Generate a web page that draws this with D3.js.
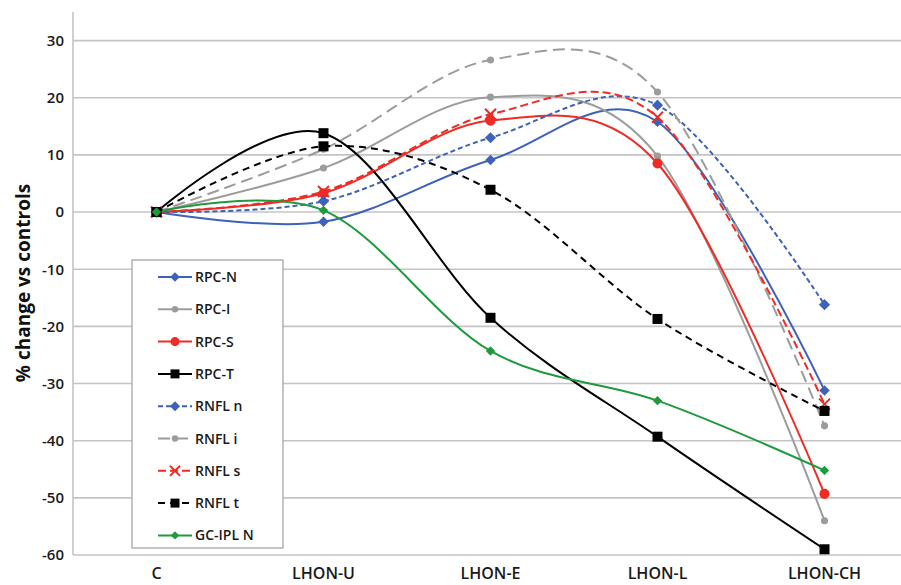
<!DOCTYPE html>
<html><head><meta charset="utf-8">
<script src="https://cdn.jsdelivr.net/npm/d3@7"></script>
<style>body{margin:0;background:#fff}svg{display:block}</style>
</head><body>
<svg id="c" width="901" height="585"></svg>
<script>
const categories = ["C", "LHON-U", "LHON-E", "LHON-L", "LHON-CH"];
const yTicks = [30, 20, 10, 0, -10, -20, -30, -40, -50, -60];
const seriesNames = ["RPC-N", "RPC-I", "RPC-S", "RPC-T", "RNFL n", "RNFL i", "RNFL s", "RNFL t", "GC-IPL N"];
const rpcN   = [0, -1.7, 9.1, 15.8, -31.2];
const rpcI   = [0, 7.7, 20.1, 9.8, -54.0];
const rpcS   = [0, 3.3, 16.0, 8.5, -49.3];
const rpcT   = [0, 13.8, -18.5, -39.3, -59.0];
const rnflN  = [0, 1.9, 13.0, 18.7, -16.2];
const rnflI  = [0, 11.0, 26.6, 21.0, -37.4];
const rnflS  = [0, 3.6, 17.1, 16.6, -33.6];
const rnflT  = [0, 11.5, 3.9, -18.7, -34.8];
const gcIplN = [0, 0.3, -24.3, -33.0, -45.2];
const seriesValues = [rpcN, rpcI, rpcS, rpcT, rnflN, rnflI, rnflS, rnflT, gcIplN];

const styles = [
  {color:"#3d62b8", dash:null,   marker:"diamond", size:70},
  {color:"#9c9c9c", dash:null,   marker:"circle",  size:40},
  {color:"#ee2b24", dash:null,   marker:"circle",  size:80},
  {color:"#000000", dash:null,   marker:"square",  size:100},
  {color:"#3d62b8", dash:"5,3",  marker:"diamond", size:80},
  {color:"#9c9c9c", dash:"12,6", marker:"circle",  size:40},
  {color:"#ee2b24", dash:"8,4",  marker:"x",       size:9},
  {color:"#000000", dash:"7,5",  marker:"square",  size:100},
  {color:"#1e9a3c", dash:null,   marker:"diamond", size:56}
];

const svg = d3.select("#c");
const font = "'Open Sans', 'Liberation Sans', sans-serif";
const x = d3.scaleBand().domain(categories).range([73, 908]);
const cx = c => x(c) + x.bandwidth()/2;
const y = d3.scaleLinear().domain([-60, 35]).range([555, 12]);

// gridlines
svg.append("g").selectAll("line").data(yTicks).join("line")
  .attr("x1", 73).attr("x2", 901)
  .attr("y1", d => y(d)).attr("y2", d => y(d))
  .attr("stroke", "#c4c4c4").attr("stroke-width", 1.6);
// y axis line
svg.append("line").attr("x1", 73).attr("x2", 73).attr("y1", y(35)).attr("y2", y(-60))
  .attr("stroke", "#c4c4c4").attr("stroke-width", 1.6);

// y tick labels
const yAxis = d3.axisLeft(y).tickValues(yTicks).tickSize(0).tickPadding(9).tickFormat(d => String(d));
const ga = svg.append("g").attr("transform", "translate(73,0)").call(yAxis);
ga.select(".domain").remove();
ga.selectAll("text").attr("font-family", font).attr("font-size", 15).attr("font-weight", 600).attr("fill", "#1a1a1a");

// x labels
const xAxis = d3.axisBottom(x).tickSize(0).tickPadding(0);
const gx = svg.append("g").attr("transform", "translate(0,568)").call(xAxis);
gx.select(".domain").remove();
gx.selectAll("text").attr("font-family", font).attr("font-size", 16).attr("font-weight", 600).attr("fill", "#1a1a1a");

// y title
svg.append("text").attr("transform", "translate(30,283) rotate(-90)")
  .attr("text-anchor", "middle").attr("font-family", font).attr("font-size", 19).attr("font-weight", 700)
  .attr("fill", "#111").text("% change vs controls");

function drawMarker(g, st, px, py, scale) {
  const s = scale || 1;
  if (st.marker === "x") {
    const r = st.size * s / 2 + 1;
    g.append("path").attr("d", `M${px-r},${py-r}L${px+r},${py+r}M${px-r},${py+r}L${px+r},${py-r}`)
      .attr("stroke", st.color).attr("stroke-width", 2).attr("fill", "none");
  } else {
    const type = st.marker === "diamond" ? d3.symbolDiamond2 : st.marker === "circle" ? d3.symbolCircle : d3.symbolSquare;
    g.append("path").attr("d", d3.symbol().type(type).size(st.size * s * s)())
      .attr("transform", `translate(${px},${py})`)
      .attr("fill", st.color);
  }
}

// lines
const line = d3.line().x((d, i) => cx(categories[i])).y(d => y(d)).curve(d3.curveCatmullRom.alpha(0));
const gl = svg.append("g");
seriesValues.forEach((vals, k) => {
  const st = styles[k];
  gl.append("path").datum(vals).attr("d", line).attr("fill", "none")
    .attr("stroke", st.color).attr("stroke-width", 2)
    .attr("stroke-dasharray", st.dash);
});
const gm = svg.append("g");
seriesValues.forEach((vals, k) => {
  vals.forEach((v, i) => drawMarker(gm, styles[k], cx(categories[i]), y(v)));
});

// legend
const lg = svg.append("g");
lg.append("rect").attr("x", 132).attr("y", 260).attr("width", 151).attr("height", 288)
  .attr("fill", "#fff").attr("stroke", "#a6a6a6").attr("stroke-width", 1.3);
seriesNames.forEach((name, k) => {
  const st = styles[k];
  const yy = 277 + k * 32.3;
  lg.append("line").attr("x1", 158).attr("x2", 192).attr("y1", yy).attr("y2", yy)
    .attr("stroke", st.color).attr("stroke-width", 2).attr("stroke-dasharray", st.dash);
  drawMarker(lg, st, 175, yy, 0.9);
  lg.append("text").attr("x", 195).attr("y", yy).attr("dy", "0.36em")
    .attr("font-family", font).attr("font-size", 14).attr("font-weight", 600).attr("fill", "#1a1a1a").text(name);
});
</script>
</body></html>
